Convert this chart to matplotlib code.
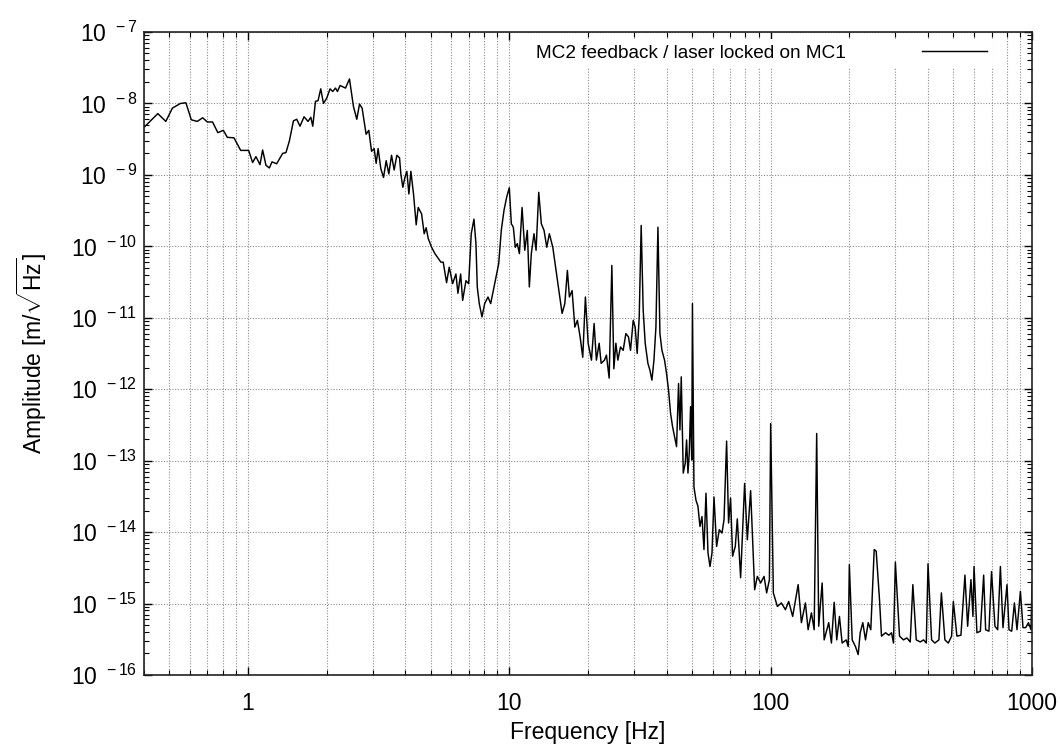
import math
import matplotlib
matplotlib.use("Agg")
import matplotlib.pyplot as plt
from matplotlib.ticker import FixedLocator, LogLocator, FuncFormatter, NullFormatter

plt.rcParams['font.family'] = ['Liberation Sans', 'DejaVu Sans']
plt.rcParams['mathtext.fontset'] = 'custom'
plt.rcParams['mathtext.rm'] = 'Liberation Sans'
plt.rcParams['mathtext.it'] = 'Liberation Sans:italic'
plt.rcParams['mathtext.bf'] = 'Liberation Sans:bold'

# ---- data: MC2 feedback / laser locked on MC1 ----
freq_hz = [
    0.402, 0.452, 0.485, 0.514, 0.552, 0.579, 0.607, 0.640, 0.671, 0.699,
    0.732, 0.767, 0.805, 0.834, 0.884, 0.938, 1.006, 1.042, 1.073, 1.112,
    1.138, 1.172, 1.208, 1.236, 1.288, 1.358, 1.398, 1.441, 1.493, 1.537,
    1.582, 1.639, 1.698, 1.740, 1.770, 1.813, 1.854, 1.899, 1.945, 2.003,
    2.061, 2.111, 2.162, 2.200, 2.252, 2.362, 2.446, 2.534, 2.609, 2.672,
    2.734, 2.832, 2.900, 2.971, 3.040, 3.094, 3.148, 3.224, 3.302, 3.380,
    3.459, 3.543, 3.626, 3.713, 3.802, 3.846, 3.914, 3.985, 4.056, 4.128,
    4.202, 4.302, 4.403, 4.481, 4.617, 4.724, 4.808, 4.894, 5.043, 5.192,
    5.346, 5.474, 5.586, 5.754, 5.890, 6.068, 6.248, 6.360, 6.513, 6.630,
    6.825, 6.989, 7.151, 7.324, 7.454, 7.541, 7.674, 7.860, 8.050, 8.288,
    8.487, 8.685, 8.892, 9.108, 9.318, 9.544, 9.773, 10.00, 10.18, 10.36,
    10.54, 10.73, 10.93, 11.19, 11.46, 11.72, 11.93, 12.14, 12.43, 12.66,
    12.96, 13.26, 13.58, 13.91, 14.23, 14.67, 15.10, 15.55, 15.92, 16.31,
    16.68, 16.98, 17.39, 17.81, 18.22, 18.66, 19.10, 19.55, 20.03, 20.62,
    21.11, 21.54, 22.07, 22.46, 23.12, 23.53, 24.10, 24.68, 25.12, 25.57,
    26.02, 26.63, 27.27, 27.92, 28.58, 29.09, 29.79, 30.31, 30.85, 31.41,
    31.96, 32.53, 33.11, 33.91, 34.51, 35.13, 35.76, 36.39, 37.04, 37.70,
    38.37, 39.26, 39.96, 40.67, 41.40, 42.13, 42.88, 43.64, 44.42, 44.97,
    45.49, 46.30, 47.12, 47.67, 48.26, 48.81, 49.38, 49.90, 50.20, 50.87,
    51.78, 52.70, 53.64, 54.60, 55.57, 56.56, 57.57, 58.60, 59.64, 60.70,
    62.11, 63.60, 65.14, 66.30, 67.83, 69.02, 70.25, 71.51, 73.22, 74.53,
    76.74, 79.50, 81.41, 83.82, 86.84, 88.93, 91.56, 94.34, 96.54, 98.90,
    100.0, 102.4, 106.1, 109.9, 113.9, 117.2, 121.4, 127.4, 131.1, 135.8,
    139.1, 143.2, 146.7, 150.0, 152.7, 157.4, 160.2, 166.8, 170.8, 175.0,
    179.0, 183.3, 187.7, 194.5, 198.0, 200.0, 205.1, 211.1, 216.2, 220.1,
    225.2, 230.6, 236.2, 241.6, 249.0, 253.4, 260.9, 265.5, 275.1, 283.2,
    290.0, 295.1, 300.0, 311.2, 322.3, 331.9, 342.0, 350.0, 360.6, 373.6,
    384.6, 394.0, 400.0, 412.8, 425.0, 440.3, 450.0, 464.2, 478.3, 492.4,
    500.0, 516.0, 534.6, 553.8, 567.1, 583.9, 594.3, 600.0, 615.6, 634.3,
    653.1, 664.6, 684.2, 700.0, 721.5, 739.0, 756.8, 774.3, 802.2, 816.5,
    836.1, 856.3, 876.1, 902.7, 923.7, 946.0, 969.0, 991.3, 1000.0,
]

amplitude = [
    4.7e-9, 7.2e-9, 5.6e-9, 8.6e-9, 1.0e-8, 1.02e-8, 5.9e-9, 5.6e-9, 6.3e-9, 5.5e-9,
    5.5e-9, 3.9e-9, 4.2e-9, 3.35e-9, 3.3e-9, 2.2e-9, 2.2e-9, 1.49e-9, 1.8e-9, 1.39e-9,
    2.23e-9, 1.36e-9, 1.25e-9, 1.52e-9, 1.43e-9, 2.0e-9, 2.05e-9, 3.0e-9, 5.7e-9, 6.0e-9,
    4.8e-9, 6.5e-9, 5.6e-9, 6.4e-9, 4.8e-9, 1.07e-8, 1.09e-8, 1.6e-8, 1.0e-8, 1.19e-8,
    1.6e-8, 1.47e-8, 1.64e-8, 1.47e-8, 1.78e-8, 1.64e-8, 2.2e-8, 9.0e-9, 6.0e-9, 9.8e-9,
    8.6e-9, 3.7e-9, 4.2e-9, 2.14e-9, 2.33e-9, 1.45e-9, 2.33e-9, 1.22e-9, 9.2e-10, 1.58e-9,
    1.03e-9, 1.88e-9, 1.17e-9, 1.88e-9, 1.73e-9, 1.03e-9, 6.7e-10, 9.2e-10, 1.12e-9, 5.4e-10,
    1.12e-9, 5.3e-10, 2.0e-10, 3.5e-10, 2.85e-10, 1.5e-10, 1.82e-10, 1.29e-10, 9.7e-11, 7.9e-11,
    6.8e-11, 6.0e-11, 6.0e-11, 3.1e-11, 5.1e-11, 3.0e-11, 4.1e-11, 2.2e-11, 4.1e-11, 1.75e-11,
    3.3e-11, 3.0e-11, 1.5e-10, 2.4e-10, 1.09e-10, 2.7e-11, 1.58e-11, 1.03e-11, 1.58e-11, 1.95e-11,
    1.58e-11, 2.4e-11, 3.7e-11, 5.7e-11, 1.67e-10, 3.2e-10, 4.9e-10, 6.6e-10, 2.07e-10, 1.85e-10,
    9.7e-11, 1.09e-10, 7.9e-11, 3.5e-10, 8.8e-11, 1.67e-10, 2.7e-11, 7.9e-11, 1.5e-10, 8.8e-11,
    5.7e-10, 2.07e-10, 1.67e-10, 9.7e-11, 1.5e-10, 9.7e-11, 4.6e-11, 2.2e-11, 1.15e-11, 1.58e-11,
    4.6e-11, 1.95e-11, 2.4e-11, 7.4e-12, 9.2e-12, 5.4e-12, 2.8e-12, 1.95e-11, 4.4e-12, 2.55e-12,
    8.3e-12, 2.55e-12, 4.4e-12, 2.3e-12, 2.55e-12, 3.0e-12, 1.43e-12, 5.4e-11, 1.93e-12, 4.4e-12,
    2.55e-12, 3.9e-12, 3.5e-12, 6.0e-12, 5.4e-12, 3.5e-12, 9.2e-12, 7.4e-12, 3.16e-12, 1.03e-11,
    1.96e-10, 1.27e-11, 4.4e-12, 2.3e-12, 1.85e-12, 1.34e-12, 2.55e-12, 7.4e-12, 1.85e-10, 6.0e-12,
    3.5e-12, 2.55e-12, 1.66e-12, 9.7e-13, 4.6e-13, 3.0e-13, 2.16e-13, 1.57e-13, 1.2e-12, 2.7e-13,
    1.49e-12, 6.7e-14, 9.2e-14, 1.95e-13, 6.7e-14, 1.27e-13, 5.7e-13, 1.02e-13, 1.58e-11, 4.3e-14,
    2.8e-14, 2.3e-14, 1.2e-14, 1.65e-14, 5.7e-15, 3.5e-14, 5.1e-15, 3.3e-15, 5.1e-15, 3.1e-14,
    6.3e-15, 1.08e-14, 9.7e-15, 1.49e-14, 1.88e-13, 1.34e-14, 3.0e-14, 4.6e-15, 6.3e-15, 1.53e-14,
    2.3e-15, 4.8e-14, 7.8e-15, 3.8e-14, 1.56e-15, 2.4e-15, 1.94e-15, 2.4e-15, 1.41e-15, 2.16e-15,
    3.3e-13, 1.41e-15, 9.1e-16, 1.02e-15, 8.2e-16, 1.07e-15, 6.6e-16, 1.84e-15, 5.4e-16, 1.02e-15,
    4.3e-16, 7.4e-16, 4.3e-16, 2.4e-13, 4.8e-16, 1.94e-15, 3.1e-16, 5.4e-16, 2.8e-16, 1.04e-15,
    3.1e-16, 6.6e-16, 2.8e-16, 3.1e-16, 2.5e-16, 3.5e-15, 3.1e-16, 2.5e-16, 1.93e-16, 3.9e-16,
    5.4e-16, 3.1e-16, 5.4e-16, 4.3e-16, 5.7e-15, 5.4e-15, 1.13e-15, 3.5e-16, 3.9e-16, 3.6e-16,
    3.9e-16, 2.8e-16, 3.8e-15, 3.5e-16, 3.1e-16, 3.3e-16, 2.9e-16, 1.84e-15, 3.1e-16, 2.9e-16,
    3.1e-16, 2.8e-16, 3.6e-15, 3.1e-16, 2.8e-16, 3.1e-16, 1.41e-15, 3.1e-16, 2.8e-16, 3.5e-16,
    1.07e-15, 3.5e-16, 3.6e-16, 2.5e-15, 4.8e-16, 2.16e-15, 6.6e-16, 3.3e-15, 3.9e-16, 4.1e-16,
    2.5e-15, 4.3e-16, 4.1e-16, 2.8e-15, 4.8e-16, 4.3e-16, 3.3e-15, 4.6e-16, 1.84e-15, 4.3e-16,
    4.1e-16, 1.02e-15, 4.3e-16, 1.48e-15, 4.6e-16, 4.6e-16, 5.4e-16, 4.3e-16, 1.84e-15,
]

series_label = "MC2 feedback / laser locked on MC1"
x_major_ticks = [1, 10, 100, 1000]
x_tick_labels = ["1", "10", "100", "1000"]
y_exponents = [-16, -15, -14, -13, -12, -11, -10, -9, -8, -7]

# ---- figure ----
fig = plt.figure(figsize=(10.6, 7.47), dpi=100)
ax = fig.add_axes([0.1358, 0.0964, 0.8378, 0.8608])

ax.plot(freq_hz, amplitude, color='black', lw=1.05, label=series_label)

ax.set_xscale('log')
ax.set_yscale('log')
ax.set_xlim(0.4, 1000)
ax.set_ylim(1e-16, 1e-7)

ax.xaxis.set_major_locator(FixedLocator(x_major_ticks))
ax.xaxis.set_major_formatter(FuncFormatter(
    lambda v, p: x_tick_labels[x_major_ticks.index(round(v))] if round(v) in x_major_ticks else ""))
ax.xaxis.set_minor_locator(LogLocator(base=10, subs=range(2, 10), numticks=50))
ax.xaxis.set_minor_formatter(NullFormatter())

ax.yaxis.set_major_locator(FixedLocator([10.0 ** e for e in y_exponents]))
ax.yaxis.set_major_formatter(FuncFormatter(
    lambda v, p: r'$\mathregular{10}^{\ \,%d}$' % round(math.log10(v))))
ax.yaxis.set_minor_locator(LogLocator(base=10, subs=range(2, 10), numticks=50))
ax.yaxis.set_minor_formatter(NullFormatter())

ax.tick_params(which='both', direction='in', top=True, right=True, colors='black')
ax.tick_params(which='major', length=6, width=1.0, labelsize=16.5)
ax.tick_params(which='minor', length=3.5, width=0.8)
ax.tick_params(axis='x', which='major', pad=12)
ax.tick_params(axis='y', which='major', pad=5)

ax.grid(True, which='major', axis='both', linestyle=(0, (1, 1.5)), color='#8c8c8c', lw=0.8)
ax.grid(True, which='minor', axis='x', linestyle=(0, (1, 1.5)), color='#8c8c8c', lw=0.8)
ax.set_axisbelow(True)

for s in ax.spines.values():
    s.set_linewidth(1.2)
    s.set_color('#222222')

ax.set_xlabel('Frequency [Hz]', fontsize=16.5)
ax.set_ylabel(r'Amplitude [m/$\sqrt{\mathrm{Hz}}$]', fontsize=16.5)
ax.xaxis.set_label_coords(0.5, -0.072)
ax.yaxis.set_label_coords(-0.1074, 0.5)

leg = ax.legend(loc='upper right', bbox_to_anchor=(0.9556, 0.989), borderaxespad=0,
                markerfirst=False, handlelength=3.4, handletextpad=4.0, borderpad=0.3,
                fontsize=13.7, frameon=True, fancybox=False)
leg.get_frame().set_facecolor('white')
leg.get_frame().set_edgecolor('none')
leg.get_frame().set_alpha(1.0)

fig.savefig('out.png', dpi=100)
